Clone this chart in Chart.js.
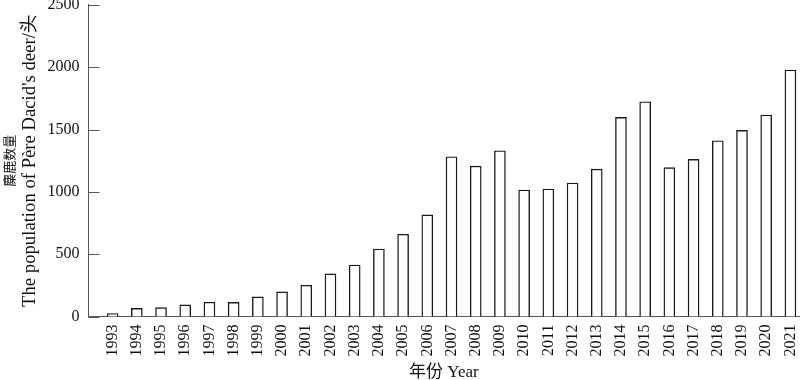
<!DOCTYPE html>
<html>
<head>
<meta charset="utf-8">
<script src="https://cdn.jsdelivr.net/npm/chart.js@4.4.0/dist/chart.umd.min.js"></script>
<style>
  body { margin: 0; background: #fff; }
</style>
</head>
<body>
<canvas id="myChart" width="800" height="380"></canvas>
<script>
// years on the x axis
const years = [1993, 1994, 1995, 1996, 1997, 1998, 1999, 2000, 2001, 2002,
  2003, 2004, 2005, 2006, 2007, 2008, 2009, 2010, 2011, 2012,
  2013, 2014, 2015, 2016, 2017, 2018, 2019, 2020, 2021];
// population of Pere David's deer (heads)
const population = [25, 66, 72, 94, 115, 114, 158, 198, 251, 342,
  414, 542, 660, 815, 1282, 1207, 1330, 1015, 1023, 1071,
  1183, 1597, 1723, 1194, 1261, 1410, 1493, 1616, 1977];
const yTicks = [0, 500, 1000, 1500, 2000, 2500];

const serif = "'Liberation Serif', 'Noto Sans CJK SC', serif";
const axisColor = '#555';
const textColor = '#111';

// short tick marks pointing into the plot, like the original
const innerTicks = {
  id: 'innerTicks',
  afterDraw(chart) {
    const y = chart.scales.y;
    const c = chart.ctx;
    c.save();
    c.strokeStyle = axisColor;
    c.lineWidth = 1;
    y.ticks.forEach(t => {
      const py = Math.round(y.getPixelForValue(t.value)) + 0.5;
      c.beginPath();
      c.moveTo(y.right, py);
      c.lineTo(y.right + 11, py);
      c.stroke();
    });
    c.restore();
  }
};

let ctx = document.getElementById('myChart').getContext('2d');
let myChart = new Chart(ctx, {
  type: 'bar',
  data: {
    datasets: [{
      data: years.map((yr, i) => ({ x: yr, y: population[i] })),
      backgroundColor: '#fff',
      borderColor: '#1a1a1a',
      borderWidth: 1.4,
      barThickness: 11
    }]
  },
  options: {
    responsive: false,
    animation: false,
    layout: { padding: { left: 2, right: 0, top: 0, bottom: -3 } },
    plugins: {
      legend: { display: false },
      tooltip: { enabled: false }
    },
    scales: {
      x: {
        type: 'linear',
        offset: false,
        min: years[0] - 1,
        max: years[years.length - 1] + 0.37,
        // tick marks are not drawn, the length only keeps the labels off the axis
        grid: { display: false, drawTicks: true, tickLength: 8, offset: false },
        border: { color: axisColor, width: 1 },
        ticks: {
          stepSize: 1,
          autoSkip: false,
          includeBounds: false,
          maxRotation: 90,
          minRotation: 90,
          padding: 0,
          color: textColor,
          font: { family: serif, size: 16, lineHeight: 0.6 },
          callback: v => (v < years[0] ? '' : String(v))
        },
        title: {
          display: true,
          text: '年份 Year',
          color: textColor,
          font: { family: serif, size: 17 },
          padding: { top: 6, bottom: 0 }
        }
      },
      y: {
        min: 0,
        max: 2500,
        afterBuildTicks: scale => { scale.ticks = yTicks.map(v => ({ value: v })); },
        grid: { display: false, drawTicks: true, tickLength: 9 },
        border: { color: axisColor, width: 1 },
        ticks: {
          padding: 0,
          color: textColor,
          font: { family: serif, size: 16, lineHeight: 0.6 },
          callback: v => String(v)
        },
        title: {
          display: true,
          text: "The population of Père Dacid's deer/头",
          color: textColor,
          font: { family: serif, size: 18.7, lineHeight: 1.06 },
          padding: { top: 2, bottom: 7 }
        }
      },
      // second left axis only carries the Chinese title line
      yCn: {
        position: 'left',
        weight: 1,
        min: 0,
        max: 2500,
        grid: { display: false, drawTicks: false },
        border: { display: false },
        ticks: { display: false },
        title: {
          display: true,
          text: '麋鹿数量',
          color: textColor,
          font: { family: serif, size: 13, lineHeight: 1.2 },
          padding: { top: 1, bottom: 0 }
        }
      }
    }
  },
  plugins: [innerTicks]
});
</script>
</body>
</html>
